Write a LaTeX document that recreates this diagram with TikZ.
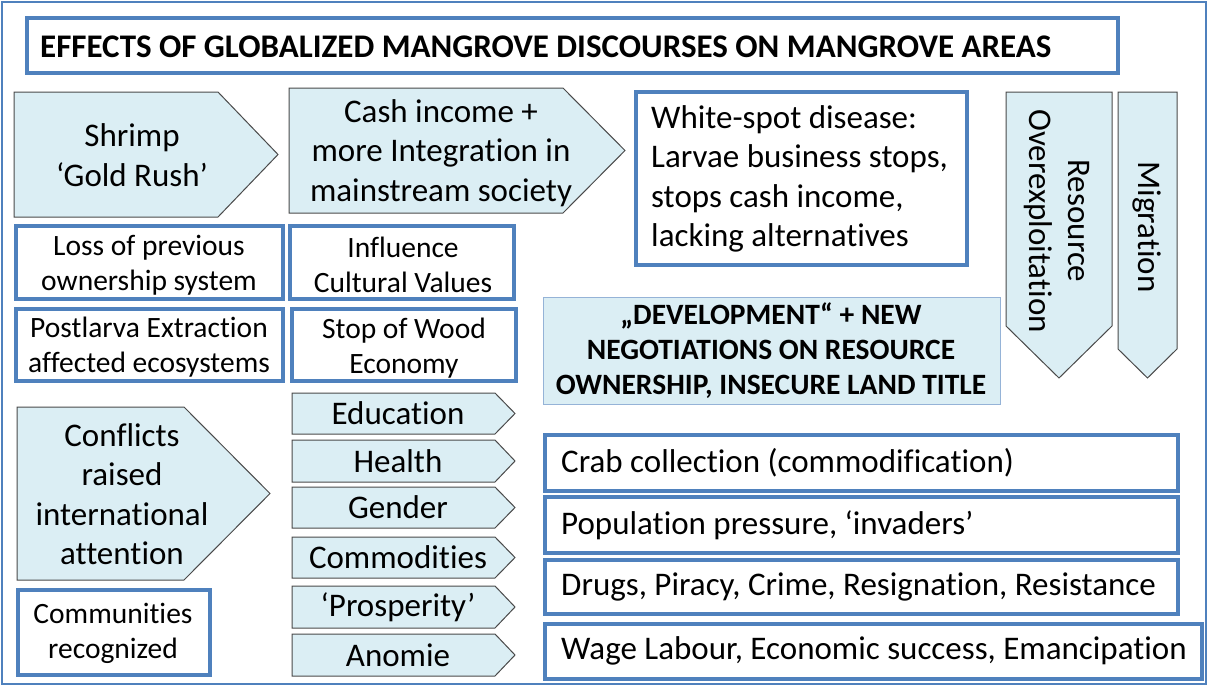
\documentclass[tikz,border=0pt]{standalone}
\usepackage{fontspec}
\setmainfont{Carlito}[Ligatures={NoCommon}]
\definecolor{frameblue}{HTML}{4F81BD}
\definecolor{paleblue}{HTML}{DBEEF4}
\definecolor{softedge}{HTML}{95B3D7}
\definecolor{arrowedge}{HTML}{4A4A4A}
\begin{document}
\begin{tikzpicture}[x=1pt,y=-1pt,
  bluebox/.style={draw=frameblue, line width=4.5pt, fill=white},
  pent/.style={draw=arrowedge, line width=1pt, fill=paleblue, line join=miter},
  bigtxt/.style={align=center, inner sep=0pt, font=\fontsize{33}{39.5}\selectfont},
  midtxt/.style={align=center, inner sep=0pt, font=\fontsize{29.5}{35}\selectfont},
  lefttxt/.style={align=left, anchor=west, inner sep=0pt, font=\fontsize{33}{39.5}\selectfont},
  boldtxt/.style={align=center, inner sep=0pt, font=\bfseries\fontsize{29.5}{35}\selectfont}]
\useasboundingbox (0,0) rectangle (1208,686);
% outer frame
\draw[frameblue, line width=2pt] (2,2) rectangle (1206,684);

% title
\draw[bluebox] (27,18) rectangle (1118,73);
\node[anchor=west, inner sep=0pt, font=\bfseries\fontsize{33}{38}\selectfont] (title) at (40,47)
  {EFFECTS OF GLOBALIZED MANGROVE DISCOURSES ON MANGROVE AREAS};

% top row of arrows
\draw[pent] (14,92) -- (218,92) -- (278,154.5) -- (218,217) -- (14,217) -- cycle;
\node[bigtxt] (shrimp) at (132,155) {Shrimp\\‘Gold Rush’};
\draw[pent] (289,88) -- (563,88) -- (625,150.5) -- (563,213) -- (289,213) -- cycle;
\node[bigtxt] (cash) at (441,153) {Cash income +\\more Integration in\\mainstream society};

% white-spot box
\draw[bluebox] (636,92) rectangle (967,265);
\node[lefttxt] (whitespot) at (651,179) {White-spot disease:\\Larvae business stops,\\stops cash income,\\lacking alternatives};

% vertical arrows
\draw[pent] (1006,92) -- (1112,92) -- (1112,326) -- (1059,378) -- (1006,326) -- cycle;
\node[bigtxt, rotate=-90] (overexp) at (1057,221) {Resource\\Overexploitation};
\draw[pent] (1118,92) -- (1177,92) -- (1177,349) -- (1147.5,378) -- (1118,349) -- cycle;
\node[bigtxt, rotate=-90] (migration) at (1147,227) {Migration};

% second-row boxes
\draw[bluebox] (16,226) rectangle (283,299);
\node[midtxt] (loss) at (149,265) {Loss of previous\\ownership system};
\draw[bluebox] (16,309) rectangle (283,381);
\node[midtxt] (postlarva) at (149,347) {Postlarva Extraction\\affected ecosystems};
\draw[bluebox] (290,226) rectangle (514,299);
\node[midtxt] (influence) at (403,265) {Influence\\Cultural Values};
\draw[bluebox] (292,309) rectangle (516,381);
\node[midtxt] (wood) at (404,348) {Stop of Wood\\Economy};

% development box
\draw[draw=softedge, line width=1pt, fill=paleblue] (543,297) rectangle (1000,404);
\node[boldtxt] (development) at (771,351) {„DEVELOPMENT“ + NEW\\NEGOTIATIONS ON RESOURCE\\OWNERSHIP, INSECURE LAND TITLE};

% conflicts arrow and communities box
\draw[pent] (17,407) -- (184,407) -- (270,493.5) -- (184,580) -- (17,580) -- cycle;
\node[bigtxt] (conflicts) at (122,494) {Conflicts\\raised\\international\\attention};
\draw[bluebox] (18,590) rectangle (210,675);
\node[midtxt] (communities) at (113,633) {Communities\\recognized};

% small arrows
\foreach \t/\b/\lab/\nm in {393/434/Education/edu, 440/482/Health/health, 487/528/Gender/gender,
  537/578/Commodities/commod, 586/628/‘Prosperity’/prosp, 634/676/Anomie/anomie}{
  \draw[pent] (292,\t) -- (495,\t) -- (515,{(\t+\b)/2}) -- (495,\b) -- (292,\b) -- cycle;
  \node[bigtxt] (\nm) at (398,{(\t+\b)/2}) {\lab};
}

% right-hand boxes
\draw[bluebox] (545,435) rectangle (1178,491);
\node[lefttxt] (crab) at (561,463) {Crab collection (commodification)};
\draw[bluebox] (545,497) rectangle (1178,553);
\node[lefttxt] (population) at (561,525) {Population pressure, ‘invaders’};
\draw[bluebox] (545,560) rectangle (1178,614);
\node[lefttxt] (drugs) at (561,587) {Drugs, Piracy, Crime, Resignation, Resistance};
\draw[bluebox] (545,624) rectangle (1202,679);
\node[lefttxt] (wage) at (561,651) {Wage Labour, Economic success, Emancipation};
\end{tikzpicture}
\end{document}
